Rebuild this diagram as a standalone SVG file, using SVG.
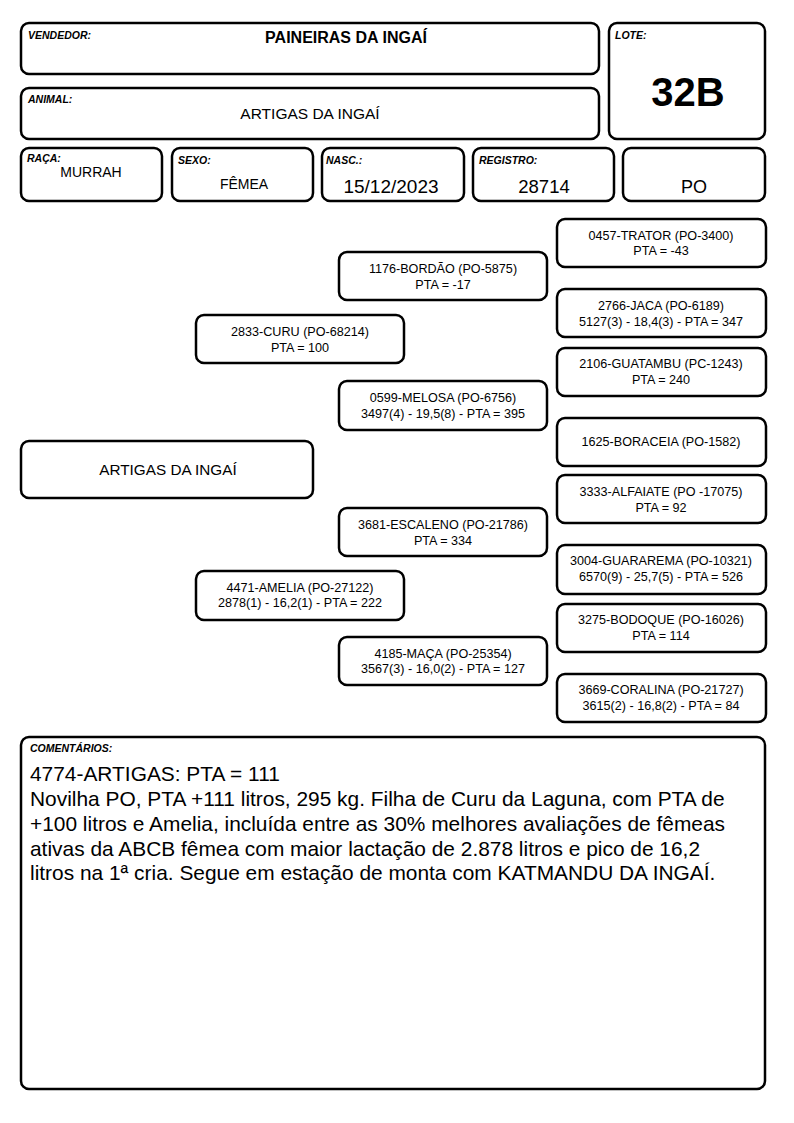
<svg xmlns="http://www.w3.org/2000/svg" width="794" height="1123" viewBox="0 0 794 1123">
<style>
.b{fill:#fff;stroke:#000;stroke-width:2.5}
text{font-family:"Liberation Sans",Arial,sans-serif;fill:#000}
.lbl{font-size:10.5px;font-style:italic;font-weight:bold}
.n{font-size:12.6px;text-anchor:middle}
.c{text-anchor:middle}
.cm{font-size:20.9px}
</style>
<rect width="794" height="1123" fill="#fff"/>
<g id="vendedor"><rect class="b" x="21" y="23" width="578" height="51" rx="8"/><text class="lbl" x="28" y="39">VENDEDOR:</text><text class="c" x="346" y="43" font-size="16" font-weight="bold">PAINEIRAS DA INGAÍ</text></g>
<g id="animal"><rect class="b" x="21" y="88" width="578" height="51" rx="8"/><text class="lbl" x="28" y="103">ANIMAL:</text><text class="c" x="310" y="119" font-size="15.5">ARTIGAS DA INGAÍ</text></g>
<g id="lote"><rect class="b" x="609" y="23" width="156" height="116" rx="8"/><text class="lbl" x="615" y="39">LOTE:</text><text class="c" x="688" y="106" font-size="40" font-weight="bold">32B</text></g>
<g id="raca"><rect class="b" x="21" y="148" width="141" height="53" rx="8"/><text class="lbl" x="27" y="162">RAÇA:</text><text class="c" x="91" y="177" font-size="14">MURRAH</text></g>
<g id="sexo"><rect class="b" x="172" y="148" width="141" height="53" rx="8"/><text class="lbl" x="178" y="164">SEXO:</text><text class="c" x="244" y="189" font-size="14">FÊMEA</text></g>
<g id="nasc"><rect class="b" x="322" y="148" width="142" height="53" rx="8"/><text class="lbl" x="326" y="164">NASC.:</text><text class="c" x="391" y="193" font-size="19">15/12/2023</text></g>
<g id="registro"><rect class="b" x="473" y="148" width="141" height="53" rx="8"/><text class="lbl" x="479" y="164">REGISTRO:</text><text class="c" x="544" y="193" font-size="18.5">28714</text></g>
<g id="categoria"><rect class="b" x="623" y="148" width="142" height="53" rx="8"/><text class="c" x="694" y="193" font-size="18">PO</text></g>
<g id="connectors"></g>
<g id="artigas"><rect class="b" x="21" y="441" width="292" height="57" rx="8"/><text class="c" x="168" y="475" font-size="15.3">ARTIGAS DA INGAÍ</text></g>
<g id="curu"><rect class="b" x="196" y="315" width="208" height="48" rx="8"/><text class="n" x="300" y="336">2833-CURU (PO-68214)</text><text class="n" x="300" y="352">PTA = 100</text></g>
<g id="amelia"><rect class="b" x="196" y="571" width="208" height="49" rx="8"/><text class="n" x="300" y="592">4471-AMELIA (PO-27122)</text><text class="n" x="300" y="607">2878(1) - 16,2(1) - PTA = 222</text></g>
<g id="bordao"><rect class="b" x="339" y="252" width="208" height="48" rx="8"/><text class="n" x="443" y="273">1176-BORDÃO (PO-5875)</text><text class="n" x="443" y="289">PTA = -17</text></g>
<g id="melosa"><rect class="b" x="339" y="381" width="208" height="49" rx="8"/><text class="n" x="443" y="402">0599-MELOSA (PO-6756)</text><text class="n" x="443" y="418">3497(4) - 19,5(8) - PTA = 395</text></g>
<g id="escaleno"><rect class="b" x="339" y="508" width="208" height="48" rx="8"/><text class="n" x="443" y="529">3681-ESCALENO (PO-21786)</text><text class="n" x="443" y="545">PTA = 334</text></g>
<g id="maca"><rect class="b" x="339" y="637" width="208" height="48" rx="8"/><text class="n" x="443" y="658">4185-MAÇA (PO-25354)</text><text class="n" x="443" y="673">3567(3) - 16,0(2) - PTA = 127</text></g>
<g id="trator"><rect class="b" x="557" y="219" width="209" height="48" rx="8"/><text class="n" x="661" y="240">0457-TRATOR (PO-3400)</text><text class="n" x="661" y="255">PTA = -43</text></g>
<g id="jaca"><rect class="b" x="557" y="289" width="209" height="48" rx="8"/><text class="n" x="661" y="310">2766-JACA (PO-6189)</text><text class="n" x="661" y="326">5127(3) - 18,4(3) - PTA = 347</text></g>
<g id="guatambu"><rect class="b" x="557" y="348" width="209" height="48" rx="8"/><text class="n" x="661" y="368">2106-GUATAMBU (PC-1243)</text><text class="n" x="661" y="384">PTA = 240</text></g>
<g id="boraceia"><rect class="b" x="557" y="418" width="209" height="48" rx="8"/><text class="n" x="661" y="446">1625-BORACEIA (PO-1582)</text></g>
<g id="alfaiate"><rect class="b" x="557" y="475" width="209" height="48" rx="8"/><text class="n" x="661" y="496">3333-ALFAIATE (PO -17075)</text><text class="n" x="661" y="512">PTA = 92</text></g>
<g id="guararema"><rect class="b" x="557" y="545" width="209" height="49" rx="8"/><text class="n" x="661" y="565">3004-GUARAREMA (PO-10321)</text><text class="n" x="661" y="581">6570(9) - 25,7(5) - PTA = 526</text></g>
<g id="bodoque"><rect class="b" x="557" y="604" width="209" height="48" rx="8"/><text class="n" x="661" y="624">3275-BODOQUE (PO-16026)</text><text class="n" x="661" y="640">PTA = 114</text></g>
<g id="coralina"><rect class="b" x="557" y="674" width="209" height="48" rx="8"/><text class="n" x="661" y="694">3669-CORALINA (PO-21727)</text><text class="n" x="661" y="710">3615(2) - 16,8(2) - PTA = 84</text></g>
<g id="comentarios"><rect class="b" x="21" y="737" width="744" height="352" rx="8"/><text class="lbl" x="30" y="752" font-size="10">COMENTÁRIOS:</text>
<text class="cm" x="30" y="781">4774-ARTIGAS: PTA = 111</text>
<text class="cm" x="30" y="806">Novilha PO, PTA +111 litros, 295 kg. Filha de Curu da Laguna, com PTA de</text>
<text class="cm" x="30" y="831">+100 litros e Amelia, incluída entre as 30% melhores avaliações de fêmeas</text>
<text class="cm" x="30" y="856">ativas da ABCB fêmea com maior lactação de 2.878 litros e pico de 16,2</text>
<text class="cm" x="30" y="880">litros na 1ª cria. Segue em estação de monta com KATMANDU DA INGAÍ.</text></g>
</svg>
